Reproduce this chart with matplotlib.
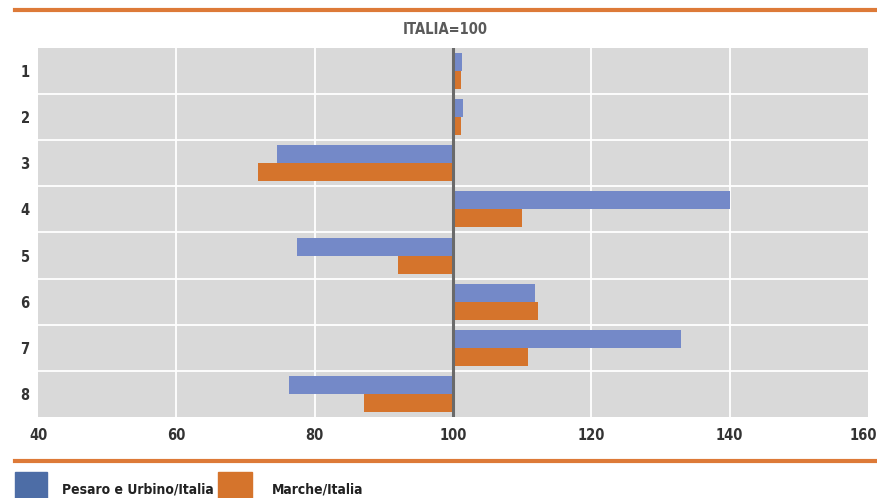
import matplotlib.pyplot as plt
from matplotlib.patches import Rectangle
from matplotlib.lines import Line2D
import matplotlib.transforms as mtransforms
import numpy as np

categories = ["1", "2", "3", "4", "5", "6", "7", "8"]
pesaro = [101.3, 101.4, 74.5, 140.0, 77.4, 111.9, 132.9, 76.3]
marche = [101.2, 101.2, 71.8, 110.0, 92.0, 112.3, 110.8, 87.1]
xticks = [40, 60, 80, 100, 120, 140, 160]
title = "ITALIA=100"
series_names = ["Pesaro e Urbino/Italia", "Marche/Italia"]

FONT = ["DejaVu Sans"]
FK = dict(fontfamily=FONT, fontstretch="condensed", fontweight="bold")
BLUE = "#7489C8"
BLUE_LEG = "#4D6DA6"
ORANGE = "#D5742C"
LINE_OR = "#DD7A38"
GRAY_TXT = "#5a5a5a"

fig = plt.figure(figsize=(8.78, 4.98), dpi=100)
W, H = 878, 498
ax = fig.add_axes([38 / W, 1 - 417 / H, (868 - 38) / W, (417 - 48) / H])
ax.set_facecolor("#D9D9D9")

y = np.arange(len(categories))
h = 0.39
base = 100
ax.barh(y - h / 2, np.array(pesaro) - base, left=base, height=h, color=BLUE, zorder=3)
ax.barh(y + h / 2, np.array(marche) - base, left=base, height=h, color=ORANGE, zorder=3)

ax.set_xlim(40, 160)
ax.set_ylim(len(categories) - 0.5, -0.5)
ax.set_xticks(xticks)
ax.set_xticklabels([str(t) for t in xticks], fontsize=10.5, color="#333333", **FK)
ax.set_yticks(y)
ax.set_yticklabels(categories, fontsize=10.5, color="#333333", **FK)
for yy in np.arange(0.5, len(categories) - 0.5, 1):
    ax.axhline(yy, color="white", lw=1.3, zorder=1)
for xx in xticks[1:-1]:
    ax.axvline(xx, color="white", lw=1.3, zorder=1)
ax.axvline(base, color="#6a6a6a", lw=2.2, zorder=4)
ax.tick_params(length=0, pad=8)
ax.tick_params(axis="y", pad=6)
for s in ax.spines.values():
    s.set_visible(False)

# nudge last x tick label so it stays inside the figure
last_tick = ax.xaxis.get_major_ticks()[-1]
last_tick.label1.set_transform(last_tick.label1.get_transform() +
                               mtransforms.ScaledTranslation(-5 / 100, 0, fig.dpi_scale_trans))

fig.text(445 / W, 1 - 30 / H, title, ha="center", va="center",
         fontsize=10.5, color=GRAY_TXT, **FK)

fig.add_artist(Line2D([15 / W, 878 / W], [1 - 10 / H, 1 - 10 / H], color=LINE_OR, lw=3))
fig.add_artist(Line2D([15 / W, 878 / W], [1 - 461 / H, 1 - 461 / H], color=LINE_OR, lw=3))

fig.add_artist(Rectangle((15 / W, 0), 32 / W, 26 / H, color=BLUE_LEG, transform=fig.transFigure))
fig.add_artist(Rectangle((218 / W, 0), 34 / W, 26 / H, color=ORANGE, transform=fig.transFigure))
fig.text(62 / W, 1 - 489 / H, series_names[0], ha="left", va="center",
         fontsize=10, color="#222222", **FK)
fig.text(272 / W, 1 - 489 / H, series_names[1], ha="left", va="center",
         fontsize=10, color="#222222", **FK)

fig.savefig("out.png", dpi=100, facecolor="white")
